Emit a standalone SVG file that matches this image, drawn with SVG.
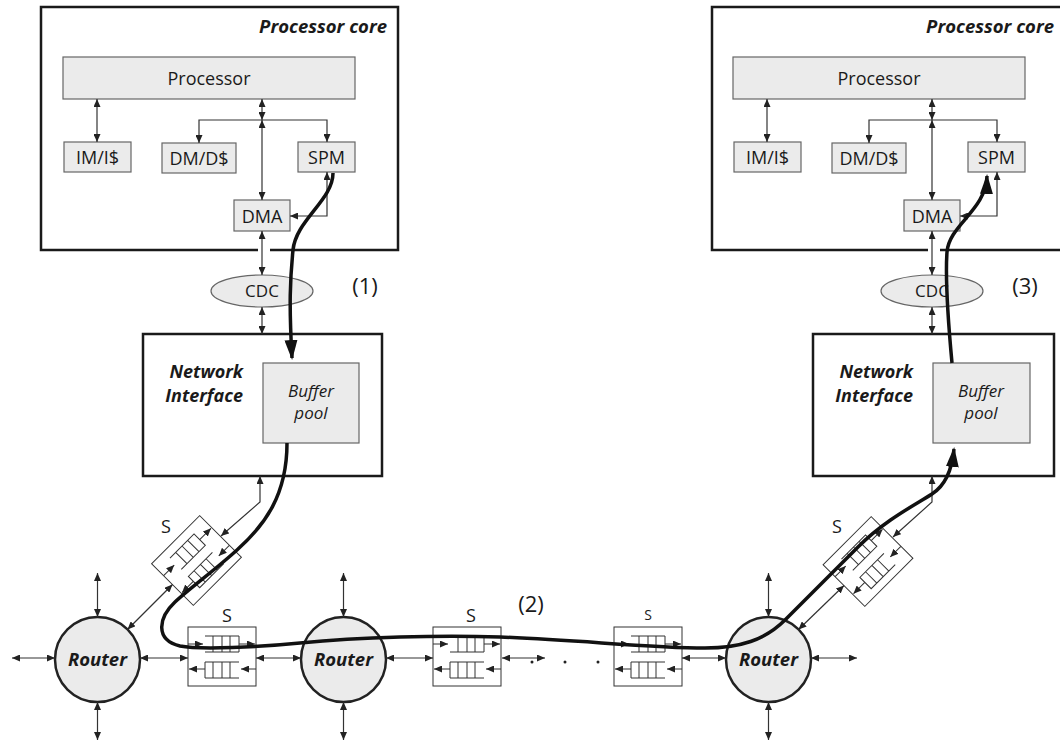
<svg xmlns="http://www.w3.org/2000/svg" xmlns:xlink="http://www.w3.org/1999/xlink" width="1060" height="742" viewBox="0 0 1060 742">
<defs>
<style>
.box{fill:#fff;stroke:#1a1a1a;stroke-width:2.5}
.blk{fill:#ebebeb;stroke:#666;stroke-width:1.2}
.rt{fill:#ebebeb;stroke:#222;stroke-width:2.5}
.ln{fill:none;stroke:#333;stroke-width:1.2}
.dbl{marker-start:url(#ah);marker-end:url(#ah)}
.thk{fill:none;stroke:#111;stroke-width:3.5;marker-end:url(#big)}
.q{fill:none;stroke:#333;stroke-width:1}
.sl{stroke:#333;stroke-width:1;marker-end:url(#ah)}
text{font-family:"Open Sans","Noto Sans","Liberation Sans",sans-serif;fill:#1a1a1a}
.t{font-size:18px;text-anchor:middle}
.bi{font-weight:bold;font-style:italic;font-size:18.5px}
.ni{font-weight:bold;font-style:italic;font-size:18px;text-anchor:end}
.it{font-style:italic;font-size:17px;text-anchor:middle}
.num{font-size:22px;text-anchor:middle}
</style>
<marker id="ah" viewBox="0 0 8 7" refX="8" refY="3.5" markerWidth="8" markerHeight="7" markerUnits="userSpaceOnUse" orient="auto-start-reverse"><path d="M0,0 L8,3.5 L0,7 Z" fill="#222"/></marker>
<marker id="big" viewBox="0 0 20 13" refX="18" refY="6.5" markerWidth="20" markerHeight="13" markerUnits="userSpaceOnUse" orient="auto"><path d="M0,0 L20,6.5 L0,13 Z" fill="#111"/></marker>
<g id="sblk">
<rect x="0" y="0" width="68" height="59" fill="#fff" stroke="#333" stroke-width="1"/>
<path class="q" d="M17,9 H51 V25 H17 M25,9 V25 M34,9 V25 M42,9 V25"/>
<path class="q" d="M51,35 H17 V51 H51 M25,35 V51 M34,35 V51 M42,35 V51"/>
<line class="sl" x1="0" y1="17" x2="15" y2="17"/>
<line class="sl" x1="51" y1="17" x2="67" y2="17"/>
<line class="sl" x1="68" y1="42" x2="53" y2="42"/>
<line class="sl" x1="17" y1="42" x2="1" y2="42"/>
</g>
</defs>
<rect width="1060" height="742" fill="#fff"/>

<!-- Left tile -->
<g id="coreL">
<path class="box" fill="#fff" d="M258,250 H41 V7 H398 V250 H270"/>
<text class="bi" x="387" y="33" text-anchor="end">Processor core</text>
</g>
<g id="procL"><rect class="blk" x="63" y="57" width="292" height="42"/><text class="t" x="209" y="85">Processor</text></g>
<g id="imL"><rect class="blk" x="64" y="142" width="67" height="30"/><text class="t" x="97.5" y="164">IM/I$</text></g>
<g id="dmL"><rect class="blk" x="162" y="143" width="74" height="30"/><text class="t" x="199" y="165">DM/D$</text></g>
<g id="spmL"><rect class="blk" x="298" y="142" width="57" height="30"/><text class="t" x="326.5" y="164">SPM</text></g>
<g id="dmaL"><rect class="blk" x="234" y="200" width="56" height="31"/><text class="t" x="262" y="223">DMA</text></g>
<g id="cdcL"><ellipse class="blk" cx="262" cy="291" rx="51" ry="16"/><text class="t" x="262" y="297" style="font-size:17px">CDC</text></g>
<g id="niL">
<rect class="box" x="143" y="334" width="239" height="142"/>
<text class="ni" x="243" y="378">Network</text>
<text class="ni" x="243" y="402">Interface</text>
</g>
<g id="bufL"><rect class="blk" x="263" y="363" width="96" height="80"/><text class="it" x="311" y="397">Buffer</text><text class="it" x="311" y="419">pool</text></g>

<!-- Right tile -->
<g id="coreR">
<path class="box" fill="#fff" d="M928,250 H712 V7 H1070 V250 H940"/>
<text class="bi" x="1054" y="33" text-anchor="end">Processor core</text>
</g>
<g id="procR"><rect class="blk" x="733" y="57" width="292" height="42"/><text class="t" x="879" y="85">Processor</text></g>
<g id="imR"><rect class="blk" x="734" y="142" width="67" height="30"/><text class="t" x="767.5" y="164">IM/I$</text></g>
<g id="dmR"><rect class="blk" x="832" y="143" width="74" height="30"/><text class="t" x="869" y="165">DM/D$</text></g>
<g id="spmR"><rect class="blk" x="968" y="142" width="57" height="30"/><text class="t" x="996.5" y="164">SPM</text></g>
<g id="dmaR"><rect class="blk" x="904" y="200" width="56" height="31"/><text class="t" x="932" y="223">DMA</text></g>
<g id="cdcR"><ellipse class="blk" cx="932" cy="291" rx="51" ry="16"/><text class="t" x="932" y="297" style="font-size:17px">CDC</text></g>
<g id="niR">
<rect class="box" x="813" y="334" width="241" height="142"/>
<text class="ni" x="913" y="378">Network</text>
<text class="ni" x="913" y="402">Interface</text>
</g>
<g id="bufR"><rect class="blk" x="933" y="363" width="97" height="80"/><text class="it" x="981" y="397">Buffer</text><text class="it" x="981" y="419">pool</text></g>

<!-- Switches -->
<g id="sDiagL"><use xlink:href="#sblk" href="#sblk" transform="translate(196.5,560.5) rotate(-45) translate(-34,-29.5)"/><text class="t" x="166" y="533">S</text></g>
<g id="sDiagR"><use xlink:href="#sblk" href="#sblk" transform="translate(868,561.5) rotate(-45) translate(-34,-29.5)"/><text class="t" x="837" y="533">S</text></g>
<g id="s1"><use xlink:href="#sblk" href="#sblk" x="188" y="627"/><text class="t" x="227" y="622">S</text></g>
<g id="s2"><use xlink:href="#sblk" href="#sblk" x="433" y="627"/><text class="t" x="471" y="622">S</text></g>
<g id="s3"><use xlink:href="#sblk" href="#sblk" x="614" y="627"/><text class="t" x="648" y="620" style="font-size:14px">S</text></g>

<!-- Routers -->
<g id="router1"><circle class="rt" cx="97.5" cy="659.5" r="42.5"/><text class="bi" x="97.5" y="666" text-anchor="middle">Router</text></g>
<g id="router2"><circle class="rt" cx="343.5" cy="659.5" r="42.5"/><text class="bi" x="343.5" y="666" text-anchor="middle">Router</text></g>
<g id="router3"><circle class="rt" cx="768.5" cy="659.5" r="42.5"/><text class="bi" x="768.5" y="666" text-anchor="middle">Router</text></g>

<!-- Labels -->
<g id="labels">
<text class="num" x="365" y="294">(1)</text>
<text class="num" x="531" y="612">(2)</text>
<text class="num" x="1025" y="294">(3)</text>
<circle cx="532" cy="662" r="1.5" fill="#222"/>
<circle cx="565" cy="662" r="1.5" fill="#222"/>
<circle cx="598" cy="662" r="1.5" fill="#222"/>
</g>

<!-- Connectors -->
<g id="connectors">
<line class="ln dbl" x1="97" y1="99" x2="97" y2="142"/>
<line class="ln dbl" x1="262" y1="99" x2="262" y2="120"/>
<polyline class="ln dbl" points="199,143 199,120 327,120 327,142"/>
<line class="ln dbl" x1="262" y1="120" x2="262" y2="200"/>
<polyline class="ln dbl" points="327,172 327,216 290,216"/>
<line class="ln dbl" x1="262" y1="231" x2="262" y2="275"/>
<line class="ln dbl" x1="262" y1="307" x2="262" y2="334"/>
<polyline class="ln dbl" points="260,476 260,502 221,536"/>
<line class="ln dbl" x1="767" y1="99" x2="767" y2="142"/>
<line class="ln dbl" x1="932" y1="99" x2="932" y2="120"/>
<polyline class="ln dbl" points="869,143 869,120 997,120 997,142"/>
<line class="ln dbl" x1="932" y1="120" x2="932" y2="200"/>
<polyline class="ln dbl" points="997,172 997,216 960,216"/>
<line class="ln dbl" x1="932" y1="231" x2="932" y2="275"/>
<line class="ln dbl" x1="932" y1="307" x2="932" y2="334"/>
<polyline class="ln dbl" points="932,476 932,502 893,537"/>
<line class="ln dbl" x1="97.5" y1="573" x2="97.5" y2="617"/>
<line class="ln dbl" x1="97.5" y1="702" x2="97.5" y2="740"/>
<line class="ln dbl" x1="12" y1="658" x2="55" y2="658"/>
<line class="ln dbl" x1="140" y1="658" x2="188" y2="658"/>
<line class="ln dbl" x1="127.5" y1="629.5" x2="172.5" y2="584.5"/>
<line class="ln dbl" x1="256" y1="658" x2="301" y2="658"/>
<line class="ln dbl" x1="343.5" y1="573" x2="343.5" y2="617"/>
<line class="ln dbl" x1="343.5" y1="702" x2="343.5" y2="740"/>
<line class="ln dbl" x1="386" y1="658" x2="433" y2="658"/>
<line class="ln dbl" x1="502" y1="658" x2="545" y2="658"/>
<line class="ln dbl" x1="682" y1="658" x2="726" y2="658"/>
<line class="ln dbl" x1="768.5" y1="573" x2="768.5" y2="617"/>
<line class="ln dbl" x1="768.5" y1="702" x2="768.5" y2="740"/>
<line class="ln dbl" x1="811" y1="658" x2="857" y2="658"/>
<line class="ln dbl" x1="798.5" y1="629.5" x2="844" y2="585.5"/>
<path class="thk" d="M333,173 C333,200 296,220 293,250 C290,280 289,305 292,358"/>
<path class="thk" d="M287,443 C287,495 265,525 237,550 C215,570 190,588 175,602 C158,618 155,640 180,646 C200,650 260,647 300,643 C360,637 440,635 500,637 C580,640 650,648 705,648 C740,648 765,640 785,620 L858,547 C885,520 915,505 932,494 C946,485 952,470 954,449"/>
<path class="thk" d="M952,363 C948,320 945,280 947,252 C949,225 986,210 987,176"/>
</g>
</svg>
